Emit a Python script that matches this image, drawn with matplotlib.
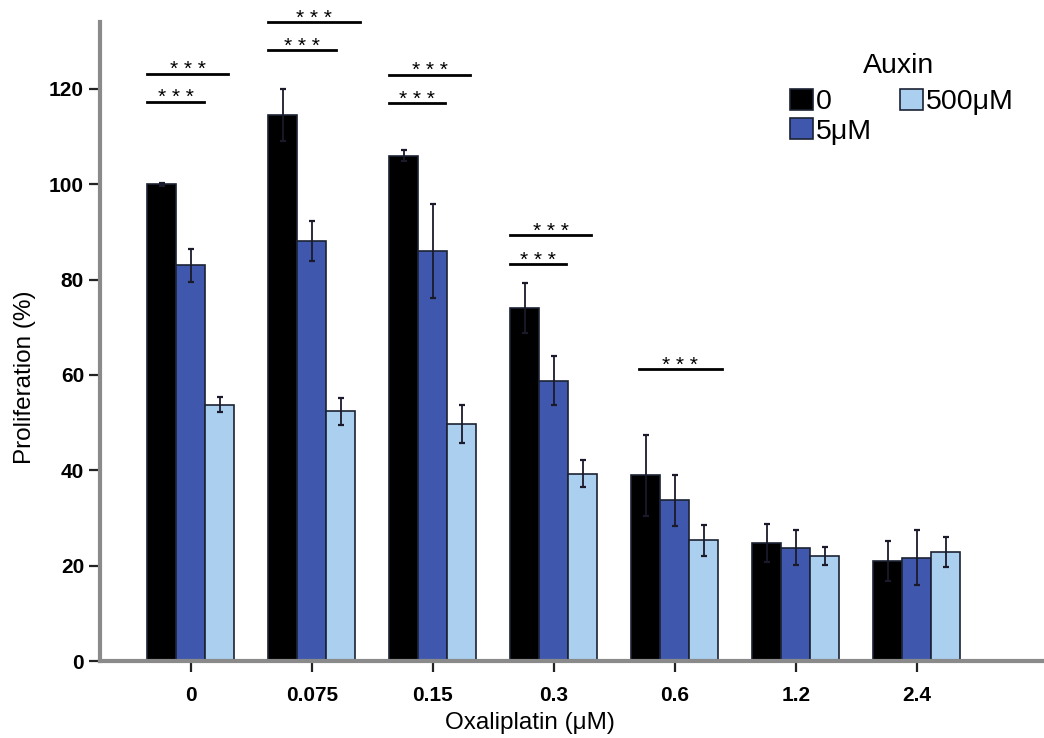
import numpy as np
import matplotlib
matplotlib.use('Agg')
from matplotlib import pyplot as plt
from matplotlib.patches import Patch

plt.rcParams['font.family'] = ['Liberation Sans', 'DejaVu Sans']

doses = ['0', '0.075', '0.15', '0.3', '0.6', '1.2', '2.4']
groups = ['0', '5μM', '500μM']

prolif_0 = [100.0, 114.5, 106.0, 74.0, 39.0, 24.7, 20.9]
prolif_5 = [83.0, 88.0, 86.0, 58.8, 33.7, 23.8, 21.7]
prolif_500 = [53.8, 52.4, 49.7, 39.3, 25.3, 22.0, 22.9]

err_0 = [0.3, 5.5, 1.2, 5.2, 8.5, 4.0, 4.2]
err_5 = [3.5, 4.2, 9.8, 5.2, 5.4, 3.6, 5.7]
err_500 = [1.6, 2.8, 4.0, 2.9, 3.3, 1.9, 3.2]

# significance bars: (dose index, height, start offset, end offset)
sig_bars = [(0, 123.2, -0.36, 0.31), (0, 117.3, -0.36, 0.11),
            (1, 134.0, -0.36, 0.40), (1, 128.2, -0.36, 0.20),
            (2, 123.0, -0.36, 0.31), (2, 117.0, -0.36, 0.10),
            (3, 89.3, -0.36, 0.31), (3, 83.2, -0.36, 0.10),
            (4, 61.2, -0.30, 0.39)]

colors = ['#000000', '#3f58ad', '#abcfee']
edge = '#1c2233'

fig = plt.figure(figsize=(10.44, 7.38), dpi=100)
ax = fig.add_axes([0.0958, 0.1043, 0.9042, 0.8657])

x = np.arange(len(doses))
w = 0.24
for i, (vals, errs) in enumerate([(prolif_0, err_0), (prolif_5, err_5), (prolif_500, err_500)]):
    ax.bar(x + (i - 1) * w, vals, width=w, color=colors[i], edgecolor=edge, linewidth=1.2,
           zorder=2)
    ax.errorbar(x + (i - 1) * w, vals, yerr=errs, fmt='none', ecolor='#1a1a2a',
                elinewidth=1.3, capsize=2.5, capthick=1.6, zorder=3)

for d, h, a, b in sig_bars:
    ax.plot([d + a, d + b], [h, h], color='black', lw=2, clip_on=False, zorder=4)
    ax.text(d + (a + b) / 2, h - 1.2, '* * *', ha='center', va='bottom', fontsize=15,
            clip_on=False)

ax.set_xlim(-0.75, 7.05)
ax.set_ylim(0, 134)
ax.set_xticks(x)
ax.set_xticklabels(doses)
ax.set_yticks(np.arange(0, 121, 20))
ax.tick_params(axis='both', labelsize=15, length=8, width=1.6, color='#222222')
ax.tick_params(axis='x', pad=10)
for lab in ax.get_xticklabels() + ax.get_yticklabels():
    lab.set_fontweight('bold')

for s in ['top', 'right']:
    ax.spines[s].set_visible(False)
for s in ['left', 'bottom']:
    ax.spines[s].set_color('#8a8a8a')
    ax.spines[s].set_linewidth(3)

ax.set_ylabel('Proliferation (%)', fontsize=17.5)
ax.yaxis.set_label_coords(-0.068, 0.444)
ax.set_xlabel('Oxaliplatin (μM)', fontsize=17.5)
ax.xaxis.set_label_coords(0.455, -0.08)

ax.text(0.846, 0.932, 'Auxin', transform=ax.transAxes, fontsize=20.5, ha='center', va='center')
handles = [Patch(facecolor=c, edgecolor=edge, linewidth=1.2) for c in colors]
leg = ax.legend(handles, groups, ncol=2, frameon=False, fontsize=20.5,
                handlelength=0.8, handleheight=0.8, handletextpad=0.1,
                columnspacing=1.0, labelspacing=0.08, loc='upper left',
                bbox_to_anchor=(0.704, 0.936))

fig.savefig('out.png', dpi=100)
